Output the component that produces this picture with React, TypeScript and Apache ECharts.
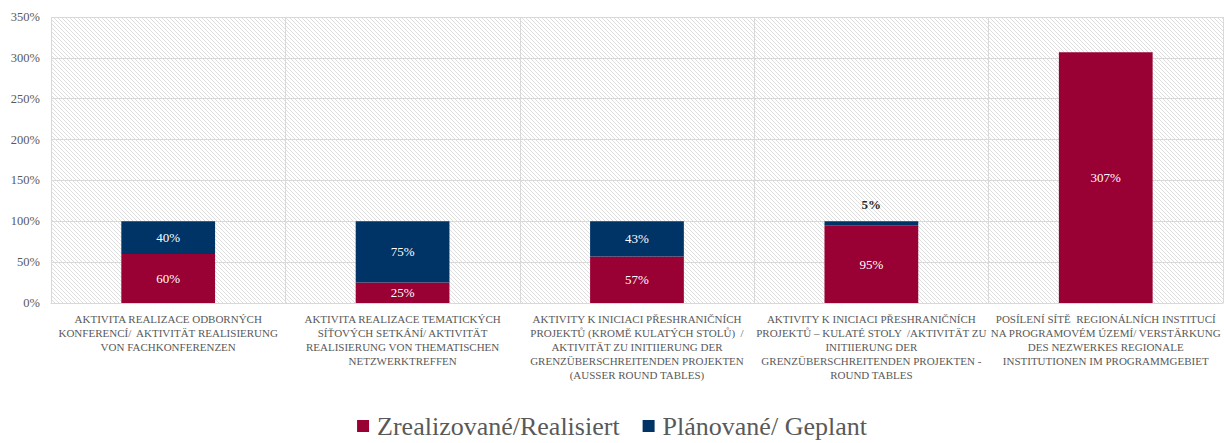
import React, { useEffect, useRef } from "react";
import * as echarts from "echarts";

const categories = [
  "AKTIVITA REALIZACE ODBORNÝCH\nKONFERENCÍ/  AKTIVITÄT REALISIERUNG\nVON FACHKONFERENZEN",
  "AKTIVITA REALIZACE TEMATICKÝCH\nSÍŤOVÝCH SETKÁNÍ/ AKTIVITÄT\nREALISIERUNG VON THEMATISCHEN\nNETZWERKTREFFEN",
  "AKTIVITY K INICIACI PŘESHRANIČNÍCH\nPROJEKTŮ (KROMĚ KULATÝCH STOLŮ)  /\nAKTIVITÄT ZU INITIIERUNG DER\nGRENZÜBERSCHREITENDEN PROJEKTEN\n(AUSSER ROUND TABLES)",
  "AKTIVITY K INICIACI PŘESHRANIČNÍCH\nPROJEKTŮ – KULATÉ STOLY  /AKTIVITÄT ZU\nINITIIERUNG DER\nGRENZÜBERSCHREITENDEN PROJEKTEN -\nROUND TABLES",
  "POSÍLENÍ SÍTĚ  REGIONÁLNÍCH INSTITUCÍ\nNA PROGRAMOVÉM ÚZEMÍ/ VERSTÄRKUNG\nDES NEZWERKES REGIONALE\nINSTITUTIONEN IM PROGRAMMGEBIET",
];
const realizedName = "Zrealizované/Realisiert";
const plannedName = "Plánované/ Geplant";
const realized = [60, 25, 57, 95, 307];
const planned: (number | null)[] = [40, 75, 43, 5, null];

const FONT = "'Liberation Serif', 'DejaVu Serif', serif";

function makeHatch(): HTMLCanvasElement {
  const s = 4;
  const c = document.createElement("canvas");
  c.width = s;
  c.height = s;
  const ctx = c.getContext("2d")!;
  ctx.fillStyle = "#ffffff";
  ctx.fillRect(0, 0, s, s);
  const img = ctx.getImageData(0, 0, s, s);
  for (let i = 0; i < s; i++) {
    const idx = (i * s + i) * 4;
    img.data[idx] = 222;
    img.data[idx + 1] = 222;
    img.data[idx + 2] = 222;
    img.data[idx + 3] = 255;
  }
  ctx.putImageData(img, 0, 0);
  return c;
}

export default function App() {
  const ref = useRef<HTMLDivElement>(null);
  useEffect(() => {
    if (!ref.current) return;
    const chart = echarts.init(ref.current, undefined, { renderer: "svg" });
    const hatch = makeHatch();
    chart.setOption({
      animation: false,
      grid: {
        left: 51,
        right: 0,
        top: 17,
        bottom: 140,
        show: true,
        borderWidth: 0,
        backgroundColor: {
          image: hatch.toDataURL(),
          repeat: "repeat",
          imageWidth: 4,
          imageHeight: 4,
        },
      },
      legend: {
        bottom: -1,
        left: "center",
        itemWidth: 12,
        itemHeight: 12,
        itemGap: 23,
        icon: "rect",
        textStyle: {
          fontFamily: FONT,
          fontSize: 26,
          color: "#595959",
          padding: [0, 0, 0, 3],
        },
        data: [realizedName, plannedName],
      },
      xAxis: {
        type: "category",
        data: categories,
        axisTick: { show: false },
        axisLine: { lineStyle: { color: "#d9d9d9" } },
        splitLine: { show: true, lineStyle: { color: "#d9d9d9" } },
        axisLabel: {
          interval: 0,
          fontFamily: FONT,
          fontSize: 11,
          lineHeight: 14,
          color: "#595959",
          margin: 9,
        },
      },
      yAxis: {
        type: "value",
        min: 0,
        max: 350,
        interval: 50,
        axisLabel: {
          formatter: "{value}%",
          fontFamily: FONT,
          fontSize: 12.5,
          color: "#595959",
          margin: 11,
        },
        splitLine: { lineStyle: { color: "#d9d9d9" } },
        axisLine: { show: false },
        axisTick: { show: false },
      },
      series: [
        {
          name: realizedName,
          type: "bar",
          stack: "total",
          barWidth: "40%",
          itemStyle: { color: "#990033" },
          label: {
            show: true,
            position: "inside",
            formatter: "{c}%",
            color: "#ffffff",
            fontFamily: FONT,
            fontSize: 13,
          },
          data: realized,
        },
        {
          name: plannedName,
          type: "bar",
          stack: "total",
          barWidth: "40%",
          itemStyle: { color: "#003366" },
          label: {
            show: true,
            position: "inside",
            formatter: "{c}%",
            color: "#ffffff",
            fontFamily: FONT,
            fontSize: 13,
          },
          data: planned.map((v) =>
            v !== null && v < 10
              ? {
                  value: v,
                  label: {
                    position: "top",
                    distance: 10,
                    color: "#262626",
                    fontWeight: "bold",
                  },
                }
              : v
          ),
        },
      ],
    });
    return () => chart.dispose();
  }, []);
  return (
    <div
      ref={ref}
      style={{ position: "absolute", left: 0, top: 0, width: 1224, height: 443 }}
    />
  );
}
